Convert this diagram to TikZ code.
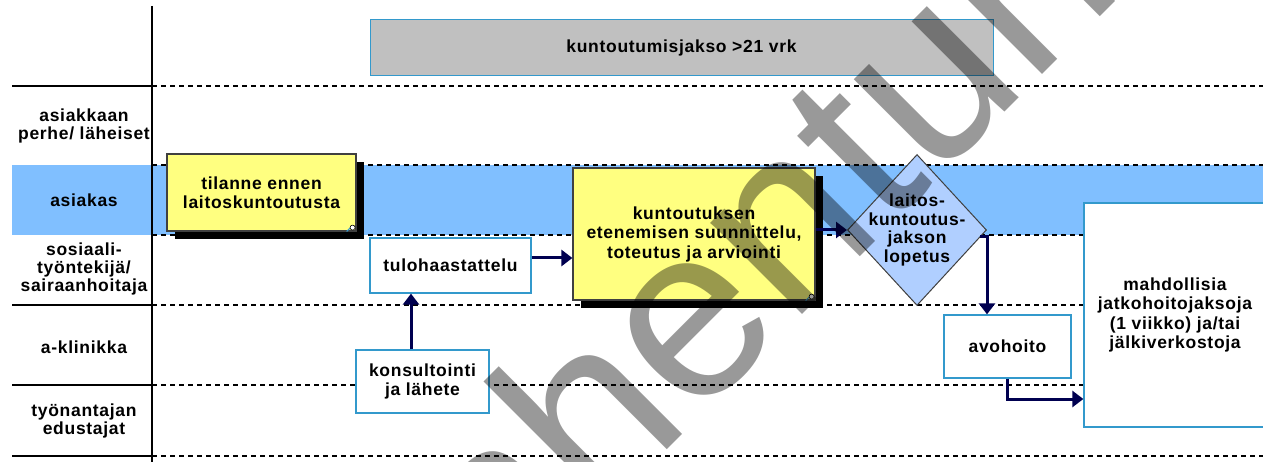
\documentclass[tikz,border=0pt]{standalone}
\usepackage{fontspec}
\setmainfont{Liberation Sans}
\newfontfamily\diafont[LetterSpace=4]{Liberation Sans}
\newfontfamily\wmfont{Liberation Sans}
\usetikzlibrary{shapes.geometric,arrows.meta,shadows,calc}
\definecolor{laneblue}{RGB}{128,191,255}
\definecolor{dialblue}{RGB}{176,207,255}
\definecolor{noteyellow}{RGB}{255,255,128}
\definecolor{framebox}{RGB}{51,153,204}
\definecolor{flownavy}{RGB}{0,0,80}
\definecolor{barfill}{RGB}{192,192,192}
\begin{document}
\begin{tikzpicture}[x=1pt,y=-1pt,
  txt/.style={font=\diafont\bfseries\fontsize{17.5}{19.5}\selectfont, align=center, text=black},
  lanelabel/.style={font=\diafont\bfseries\fontsize{17.5}{18}\selectfont, align=center},
  whitebox/.style={txt, draw=framebox, line width=1.3pt, fill=white, inner sep=0pt},
  notebox/.style={txt, draw=black!75, line width=1.2pt, fill=noteyellow, inner sep=0pt,
    drop shadow={shadow xshift=8pt, shadow yshift=-8pt, opacity=1, fill=black}},
  flow/.style={draw=flownavy, line width=3pt, -{Triangle[length=11pt,width=16pt]}},
  lanesep/.style={line width=1.2pt, dash pattern=on 5pt off 4pt},
  headsep/.style={line width=1.2pt},
  pin/.style={draw=black, fill=white, line width=0.6pt},
]
\useasboundingbox (0,0) rectangle (1263,462);

% client lane band
\fill[laneblue] (12,165) rectangle (1263,235);

% lane separators
\foreach \yy in {86,305,385,456} \draw[headsep] (12,\yy) -- (152,\yy);
\foreach \yy in {86,165,235,305,385,456} \draw[lanesep] (152,\yy) -- (1263,\yy);
\draw[line width=1.5pt] (152,6) -- (152,462);

% lane titles
\node[lanelabel] (l1) at (84,126) {asiakkaan\\perhe/ läheiset};
\node[lanelabel] (l2) at (84,200) {asiakas};
\node[lanelabel] (l3) at (84,269) {sosiaali-\\työntekijä/\\sairaanhoitaja};
\node[lanelabel] (l4) at (84,347) {a-klinikka};
\node[lanelabel] (l5) at (84,421) {työnantajan\\edustajat};

% period bar
\node[txt, draw=framebox, line width=1pt, fill=barfill, inner sep=0pt,
  minimum width=623pt, minimum height=56pt] (period) at (681.5,48) {kuntoutumisjakso >21 vrk};

% process steps
\node[notebox, minimum width=189pt, minimum height=77pt] (before) at (261.5,192.5)
  {tilanne ennen\\laitoskuntoutusta};
\node[notebox, minimum width=242pt, minimum height=132pt] (plan) at (694,234)
  {kuntoutuksen\\etenemisen suunnittelu,\\toteutus ja arviointi};
\node[whitebox, minimum width=161pt, minimum height=55pt] (intake) at (450.5,265.5) {tulohaastattelu};
\node[whitebox, minimum width=133pt, minimum height=63pt] (consult) at (422.5,381.5) {konsultointi\\ja lähete};
\node[whitebox, minimum width=127pt, minimum height=63pt] (outpat) at (1007.5,346.5) {avohoito};
\node[whitebox, minimum width=182pt, minimum height=224pt] (after) at (1175,315)
  {mahdollisia\\jatkohoitojaksoja\\(1 viikko) ja/tai\\jälkiverkostoja};
\node[diamond, draw=black!75, line width=1pt, fill=dialblue, inner sep=0pt,
  minimum width=139pt, minimum height=151pt] (end) at (917,230) {};
\node[txt, font=\diafont\bfseries\fontsize{17.5}{18.5}\selectfont] (endtext) at (end)
  {laitos-\\kuntoutus-\\jakson\\lopetus};

% corner pins of the note boxes
\foreach \b in {before,plan} {
  \draw[framebox, line width=1pt] ($(\b.south east)+(-5,-5)$) -- ($(\b.south east)+(-10,0)$);
  \draw[pin] ($(\b.south east)+(-4,-4)$) circle (2.5pt);
}

% flow
\draw[flow] ([xshift=-11.5pt]consult.north) -- ([xshift=-11.5pt]consult.north |- intake.south);
\draw[flow] ([yshift=7.5pt]intake.east) -- ([yshift=7.5pt]intake.east -| plan.west);
\draw[flow] ([yshift=4pt]plan.east) -- (end.west);
\draw[flow] ($(end.east)+(-7,7)$) -| ($(outpat.north)+(-20.5,0)$);
\draw[flow] (outpat.south) |- ([yshift=-84pt]after.west);

% watermark
\begin{scope}
  \clip (0,0) rectangle (1263,462);
  \node[font=\wmfont\fontsize{245}{245}\selectfont, text=black, text opacity=0.4,
    rotate=45, anchor=base, inner sep=0pt] (stamp) at (787,330) {Vanhentunut};
\end{scope}
\end{tikzpicture}
\end{document}
